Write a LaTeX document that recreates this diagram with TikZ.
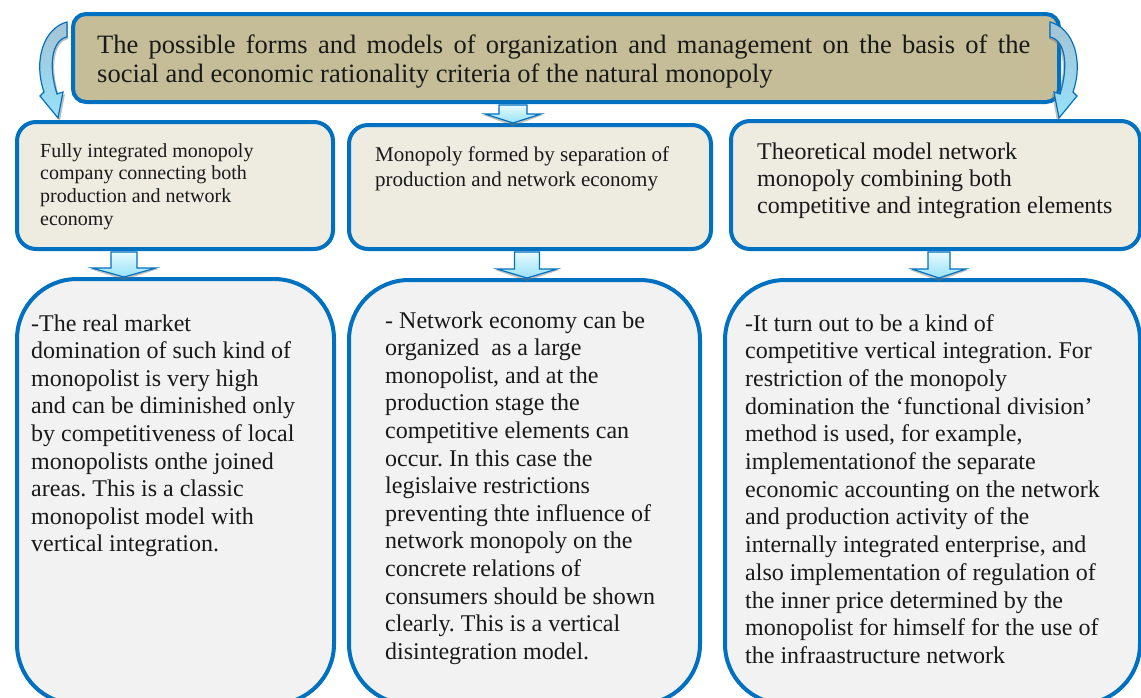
\documentclass[tikz,border=0pt]{standalone}
\usepackage{fontspec}
\setmainfont{Liberation Serif}
\frenchspacing
\usetikzlibrary{calc}
\definecolor{myblue}{RGB}{0,112,192}
\definecolor{topfill}{RGB}{196,189,151}
\definecolor{midfill}{RGB}{238,236,225}
\definecolor{botfill}{RGB}{242,242,242}
\definecolor{arrtop}{RGB}{232,250,255}
\definecolor{arrbot}{RGB}{150,225,250}
\definecolor{carrtop}{RGB}{165,195,212}
\tikzset{
  box/.style={draw=myblue, line width=4pt, inner sep=0pt, anchor=north west},
  topbox/.style={box, fill=topfill, rounded corners=13pt},
  midbox/.style={box, fill=midfill, rounded corners=19pt},
  botbox/.style={box, fill=botfill, rounded corners=60pt},
  txt/.style={anchor=base west, inner sep=0pt, text=black!90},
  blk/.style={draw=myblue, line width=1.2pt, top color=arrtop, bottom color=arrbot},
  carr/.style={draw=myblue, line width=1.2pt, top color=carrtop, bottom color=arrbot},
  shd/.style={fill=black!55, opacity=.45},
}
% #1 centre x, #2 from node, #3 to node, #4 half shaft, #5 half head
\newcommand{\downblk}[5]{%
  \coordinate (bx) at (#1,0);
  \fill[shd] let \p1=(bx |- #3.north) in
    (\x1-#5pt-2pt,\y1+8pt) -- (\x1,\y1-3pt) -- (\x1+#5pt+2pt,\y1+8pt) -- cycle;
  \draw[blk] let \p1=(bx |- #2.south), \p2=(bx |- #3.north) in
    (\x1-#4pt,\y1-1pt) -- (\x1-#4pt,\y2+9pt) -- (\x1-#5pt,\y2+9pt) -- (\x1,\y2)
    -- (\x1+#5pt,\y2+9pt) -- (\x1+#4pt,\y2+9pt) -- (\x1+#4pt,\y1-1pt) -- cycle;
}
\newcommand{\curvarr}{%
  \fill[shd] (68,24) .. controls (45,30) and (35,62) .. (46,94) -- (42,98) -- (60,121)
    -- (65,94) -- (59,96) .. controls (50,67) and (54,42) .. (68,39) -- cycle;
  \draw[carr] (67,22) .. controls (44,28) and (33,60) .. (44,92) -- (40,96) -- (58,118)
    -- (63,92) -- (57,94) .. controls (48,65) and (52,40) .. (67,37) -- cycle;
}
\begin{document}
\begin{tikzpicture}[x=1pt,y=-1pt]
\path[use as bounding box] (0,0) rectangle (1141,697);
\clip (0,0) rectangle (1141,697);

% boxes
\node[topbox, minimum width=986pt, minimum height=88pt] (top) at (71,12) {};
\node[midbox, minimum width=316pt, minimum height=127pt] (m1) at (15,120) {};
\node[midbox, minimum width=362pt, minimum height=124pt] (m2) at (347,123) {};
\node[midbox, minimum width=409pt, minimum height=128pt] (m3) at (729,119) {};
\node[botbox, minimum width=317pt, minimum height=425pt] (b1) at (15,277) {};
\node[botbox, minimum width=351pt, minimum height=424pt] (b2) at (347,278) {};
\node[botbox, minimum width=415pt, minimum height=424pt] (b3) at (723,278) {};

% texts
\node[txt] (tt) at (97,53) {\parbox[t]{940pt}{\fontsize{26.5}{29.5}\selectfont
  \makebox[933pt][s]{The possible forms and models of organization and management on the basis of the}\\
  social and economic rationality criteria of the natural monopoly}};

\node[txt] (mt1) at (40,157) {\parbox[t]{290pt}{\raggedright\fontsize{20}{22.7}\selectfont
  Fully integrated monopoly\\company connecting both\\production and network\\economy}};
\node[txt] (mt2) at (375,161) {\parbox[t]{330pt}{\raggedright\fontsize{21}{25}\selectfont
  Monopoly formed by separation of\\production and network economy}};
\node[txt] (mt3) at (757,159) {\parbox[t]{380pt}{\raggedright\fontsize{24}{27}\selectfont
  Theoretical model network\\monopoly combining both\\competitive and integration elements}};

\node[txt] (bt1) at (31,331) {\parbox[t]{300pt}{\raggedright\fontsize{24}{27.6}\selectfont
  -The real market\\
  domination of such kind of\\
  monopolist is very high\\
  and can be diminished only\\
  by competitiveness of local\\
  monopolists onthe joined\\
  areas. This is a classic\\
  monopolist model with\\
  vertical integration.}};
\node[txt] (bt2) at (385,328) {\parbox[t]{320pt}{\raggedright\fontsize{24}{27.6}\selectfont
  - Network economy can be\\
  organized\ \ as a large\\
  monopolist, and at the\\
  production stage the\\
  competitive elements can\\
  occur. In this case the\\
  legislaive restrictions\\
  preventing thte influence of\\
  network monopoly on the\\
  concrete relations of\\
  consumers should be shown\\
  clearly. This is a vertical\\
  disintegration model.}};
\node[txt] (bt3) at (745,331) {\parbox[t]{390pt}{\raggedright\fontsize{24}{27.7}\selectfont
  -It turn out to be a kind of\\
  competitive vertical integration. For\\
  restriction of the monopoly\\
  domination the ‘functional division’\\
  method is used, for example,\\
  implementationof the separate\\
  economic accounting on the network\\
  and production activity of the\\
  internally integrated enterprise, and\\
  also implementation of regulation of\\
  the inner price determined by the\\
  monopolist for himself for the use of\\
  the infraastructure network}};

% curved arrows (top box to first and third boxes)
\curvarr
\begin{scope}[xshift=1117pt, xscale=-1]
  \curvarr
\end{scope}

% straight block arrows
\downblk{513}{top}{m2}{14}{28}
\downblk{124}{m1}{b1}{13}{32}
\downblk{527}{m2}{b2}{12.5}{30}
\downblk{939}{m3}{b3}{11}{27}
\end{tikzpicture}
\end{document}
